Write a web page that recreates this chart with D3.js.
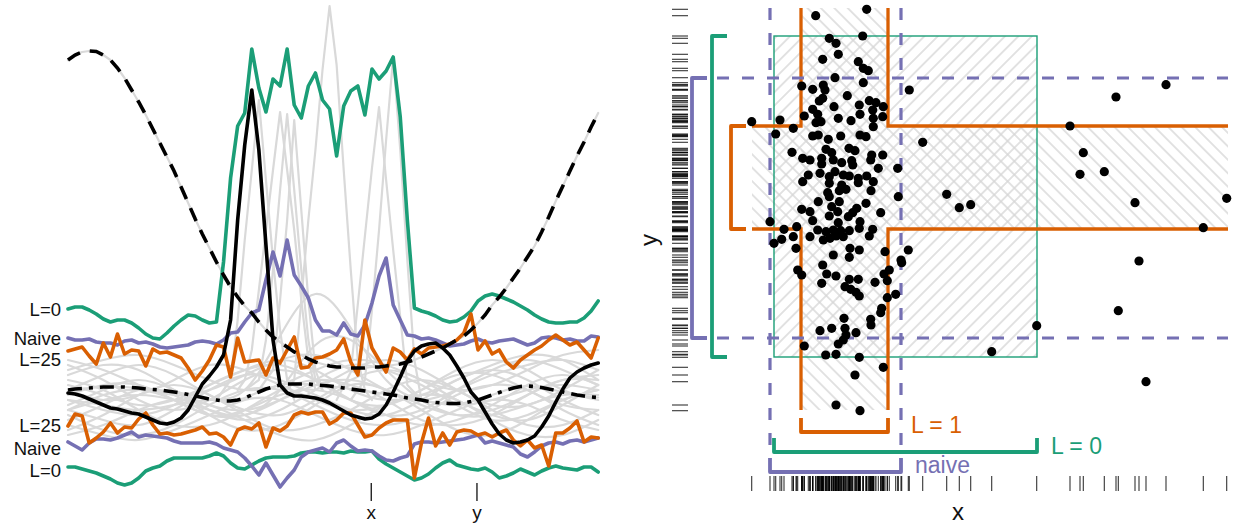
<!DOCTYPE html>
<html><head><meta charset="utf-8">
<script src="https://cdn.jsdelivr.net/npm/d3@7"></script>
<style>
body{margin:0;background:#fff}
svg{display:block}
text{font-family:"Liberation Sans",Arial,Helvetica,sans-serif}
</style>
</head><body>
<svg id="c" width="1233" height="525"></svg>
<script>
// ===================== DATA: left panel (functional data) =====================
// sample index 0..75 along the domain
const sampleIdx = d3.range(76);
const greenHi = [17.1,17.3,17.3,17.0,16.6,16.1,15.8,16.0,16.0,15.7,15.2,14.6,14.2,14.1,14.7,15.4,16.0,16.5,16.4,16.0,15.7,15.8,21.8,30.2,35.4,36.7,43.1,39.2,36.8,40.1,39.4,43.1,37.5,36.2,39.4,40.7,38.0,37.1,32.4,37.4,38.9,39.4,36.5,41.1,40.1,40.9,42.3,36.3,26.0,17.2,16.9,16.7,16.4,16.0,15.8,15.9,16.3,16.9,17.9,18.4,18.6,18.4,18.1,17.8,17.4,17.0,16.5,16.1,15.8,15.7,15.7,15.8,15.8,16.2,16.9,17.9];
const greenLo = [1.3,1.3,1.1,0.9,0.7,0.4,0.1,-0.3,-0.5,-0.3,0.2,0.9,1.2,1.4,1.9,2.2,2.2,2.2,2.2,2.2,2.4,2.7,2.4,1.7,1.2,1.1,1.5,1.9,2.2,2.3,2.3,2.3,2.4,2.7,2.8,2.8,2.7,2.8,2.8,2.7,2.9,2.8,2.8,2.9,2.1,1.6,1.2,0.8,0.4,0.0,0.2,0.6,1.2,1.7,2.0,1.5,1.3,1.1,1.0,1.2,0.8,0.2,0.4,0.7,1.1,0.8,0.5,0.9,1.2,1.4,1.2,1.1,1.0,1.3,1.3,0.8];
const naiveHi = [14.2,14.0,14.0,14.1,13.8,13.7,13.7,13.5,13.9,14.0,13.7,13.8,13.6,13.3,13.2,13.3,13.4,13.5,13.8,13.9,13.8,13.6,14.0,14.7,14.8,15.8,16.7,17.0,20.0,22.8,20.4,24.0,20.5,19.4,18.2,16.0,14.9,14.9,14.5,15.7,14.6,14.4,15.5,17.7,20.4,22.2,17.5,16.0,14.5,14.4,14.1,14.2,14.0,13.7,13.4,13.5,13.6,13.9,14.1,13.8,13.7,13.9,14.0,14.1,13.8,13.5,13.7,14.2,14.3,14.2,14.0,14.1,13.9,13.9,14.4,14.3];
const naiveLo = [3.8,3.4,3.0,3.7,4.1,4.1,4.0,4.2,4.5,4.8,4.3,4.5,4.4,4.3,4.2,3.9,3.7,3.7,3.7,3.7,3.8,3.6,3.2,3.0,2.8,2.2,1.4,0.5,1.7,0.5,-0.7,0.2,1.0,2.3,2.8,3.0,3.2,2.8,3.7,4.0,3.4,2.9,3.0,2.9,2.4,2.0,1.9,2.2,2.4,3.6,3.8,3.8,3.7,3.8,3.9,4.0,4.1,4.3,4.5,3.7,3.9,3.7,3.5,3.3,2.6,2.3,2.8,3.4,3.7,3.8,3.6,3.9,4.0,3.8,4.0,4.2];
const l25Hi = [12.9,13.1,13.3,12.4,11.6,13.7,12.3,14.6,12.6,13.0,12.9,11.4,13.1,12.7,12.8,12.5,12.2,11.2,10.0,10.9,12.0,13.5,13.3,10.3,14.2,11.8,11.9,12.0,10.5,12.2,11.7,13.0,14.3,11.2,11.3,12.2,12.3,12.6,13.0,14.1,11.8,10.5,16.0,13.2,12.0,10.8,13.2,12.8,12.0,13.1,12.6,13.2,13.3,13.4,13.6,14.0,14.7,16.6,13.0,13.9,12.6,13.0,11.8,11.2,12.0,12.5,13.0,13.4,14.0,14.5,14.0,13.5,13.8,13.0,12.2,14.2];
const l25Lo = [5.4,6.6,6.4,3.7,4.2,4.8,5.7,4.7,5.3,5.2,6.1,6.7,5.5,4.6,4.7,4.5,4.6,4.8,5.0,5.3,4.6,4.7,4.3,3.5,5.0,5.3,5.1,5.7,3.3,5.2,4.9,5.4,6.5,6.8,6.6,6.8,6.8,5.6,6.0,6.7,6.7,5.5,4.3,4.5,5.2,5.7,6.0,6.0,6.0,0.2,3.7,6.2,3.4,4.7,3.5,4.8,5.0,4.9,4.5,4.7,4.3,4.7,5.0,4.0,3.4,4.0,3.2,3.5,1.4,4.7,4.7,5.2,5.9,3.8,4.3,4.2];
const curveSolid = [8.7,8.6,8.4,8.1,7.8,7.5,7.2,7.1,6.9,6.7,6.6,6.3,6.0,5.7,5.6,5.8,6.2,7.0,8.3,9.6,10.4,11.3,12.5,16.0,26.0,33.5,39.0,33.0,23.5,14.0,9.5,8.7,8.4,8.4,8.3,8.2,8.0,7.7,7.3,6.9,6.5,6.3,6.1,6.2,6.6,7.5,8.8,10.3,11.9,12.9,13.4,13.6,13.7,13.2,12.5,11.4,10.2,8.8,8.0,6.8,5.6,4.6,4.0,3.7,3.8,4.0,4.4,5.3,6.4,7.8,9.1,10.2,10.8,11.2,11.5,11.7];
const curveDashed = [42.0,42.5,42.8,42.9,42.85,42.5,42.0,41.2,40.2,39.0,37.8,36.5,35.1,33.7,32.3,30.9,29.3,27.7,26.1,24.6,23.2,21.8,20.5,19.3,18.3,17.4,16.7,15.8,15.0,14.3,13.8,13.3,12.8,12.5,12.1,11.8,11.6,11.4,11.3,11.3,11.2,11.2,11.2,11.3,11.3,11.4,11.5,11.6,11.8,12.0,12.3,12.6,12.9,13.2,13.6,14.0,14.4,15.0,15.7,16.5,17.5,18.3,19.2,20.2,21.2,22.3,23.4,24.8,26.3,27.9,29.4,30.9,32.4,33.8,35.3,36.7];
const curveMean = [9.0,9.1,9.15,9.2,9.25,9.3,9.3,9.3,9.3,9.25,9.2,9.1,9.05,9.0,8.9,8.8,8.7,8.55,8.4,8.25,8.1,8.0,7.9,7.9,8.0,8.2,8.5,8.8,9.1,9.3,9.5,9.6,9.6,9.6,9.6,9.5,9.45,9.4,9.3,9.2,9.1,9.0,8.9,8.8,8.7,8.6,8.5,8.35,8.2,8.1,8.0,7.85,7.75,7.7,7.65,7.65,7.7,7.85,8.0,8.25,8.5,8.75,9.0,9.2,9.35,9.4,9.35,9.25,9.1,8.95,8.8,8.65,8.5,8.4,8.3,8.25];

// background sample curves, read on a coarse set of sample indices
const coarseIdx = [0,5,10,15,20,25,30,35,40,45,50,55,60,65,70,75];
const greyCurves = [
  [11.5,10,8,7,8,10,11,10,8,6.5,7,9,11,12,11,9.5],
  [9,10.5,11.5,10.5,8.5,7,6.5,8,10,11,10,8,6.5,6,7.5,9.5],
  [7,6,5.5,7,9,10.5,10,8.5,7,6.5,8,10,11,10,8,6.5],
  [5,6.5,8.5,9.5,8.5,6.5,5,5.5,7,9,10,9,7,5.5,5.5,7],
  [10.5,11.5,11,9,7,6,7,9,11,12,11,9,7.5,7.5,9,11],
  [8,7,6.5,7.5,9.5,11,11.5,10,8,7.5,9,11,12,11,9,8],
  [6,7.5,9,8.5,6.5,5,5.5,7.5,9.5,9,7,5,4.5,6,8,9],
  [12,11,9.5,8.5,9,10.5,12,12.5,11,9,8,9,10.5,11.5,12,11],
  [4.5,5.5,7,8,7.5,6,4.5,4,5.5,7.5,8.5,8,6,4.5,4.5,6],
  [9.5,8.5,7.5,8,9.5,11,12,11,9,8,8.5,10,11.5,12.5,12,10],
  [7.5,9,10,9,7.5,7,8,9.5,10,9,7.5,6.5,7,8.5,10,10.5],
  [10,9,7,5.5,5.5,7,9,10,9.5,8,6,5.5,6.5,8.5,10,10],
  [6.5,5,4.5,5.5,7.5,9,9,7.5,6,5.5,6.5,8.5,9.5,9,7,5.5],
  [8.5,9.5,9.5,8,6.5,6.5,8,10,11.5,11,9.5,7.5,6,6.5,8,9],
  [11,12,12.5,11.5,10,9,9.5,11,12,11.5,10,9,9.5,11,12.5,13],
  [5.5,4.5,4,5,6.5,8,8,6.5,5,4.5,5.5,7,8,7.5,6,5],
  [9,8,8.5,10,11.5,11,9.5,8,7,7.5,9,10.5,10.5,9,7.5,7],
  [7,8.5,9,8,6.5,7,8.5,9,8,6.5,5.5,6,7.5,9.5,10.5,9.5],
  [8,7.5,7,7.5,8,9,14.4,18.6,15.2,10,8,7.5,8,9,9.5,9],
  [7,8,8.5,8,7,6.5,9,13.5,14,11,8,6.5,6.5,7.5,8.5,8.5]
];
// spiky sample curves: [sample index, value]
const greySpikes = [
  [[31,9],[32,10],[33,18],[34,26],[35,33],[36,41],[37,47.4],[38,41.5],[39,31],[40,21],[41,12],[42,9],[43,8]],
  [[24,9],[25,10],[26,13],[27,19],[28,25],[29,31],[30,36.8],[31,31],[32,25],[33,18],[34,12],[35,9]],
  [[25,9],[27,10],[28,14],[29,21],[30,29],[31,36.6],[32,29],[33,21],[34,14],[35,10],[36,9]],
  [[21,8],[23,10],[24,16],[25,24],[26,31],[27,38],[28,30],[29,22],[30,15],[31,10],[32,8]],
  [[38,8],[40,10.8],[41,17.6],[42,24.4],[43,31.2],[44,37.3],[45,30],[46,23],[47,16.3],[48,9.5],[50,8]],
  [[40,8],[42,10],[43,17],[44,25],[45,34],[46,42.3],[47,33],[48,22],[49,12],[50,8]],
  [[27,9],[29,11],[30,18],[31,26],[32,36],[33,27],[34,18],[35,11],[36,9]]
];
const bandLabelsTop = ["L=0","Naive","L=25"];
const bandLabelsBottom = ["L=25","Naive","L=0"];
const markPos = [42.9, 57.85];
const markLabels = ["x","y"];

// ===================== DATA: right panel (scatter) =====================
const ptX = [11.57,16.67,12.93,13.6,16.27,13.83,12.27,15.83,16.33,16.83,13.5,16.33,10.17,11.27,12.33,12.5,14.73,12.27,11.93,20.93,16.93,17.6,18.33,15.93,13.4,11.27,17.27,10.43,11.77,16.0,18.27,13.83,15.1,17.33,11.6,12.1,5.17,8.0,9.33,7.57,17.33,11.27,11.83,12.83,14.07,16.0,16.6,22.27,14.9,15.5,12.6,13.17,9.2,17.17,18.27,10.27,11.0,12.17,13.33,14.17,15.17,15.27,17.07,12.17,17.83,19.77,10.83,12.0,12.93,13.5,14.33,14.93,15.83,16.67,10.27,12.93,14.17,15.83,17.33,12.77,13.93,14.6,17.1,19.83,12.93,11.83,13.93,13.17,15.67,15.27,16.6,10.17,11.0,13.77,12.93,14.83,18.07,11.27,13.83,16.0,7.0,8.4,9.67,11.77,12.6,13.33,14.07,14.93,15.93,17.27,8.17,9.33,11.0,12.33,13.0,13.6,14.33,16.93,7.4,9.6,15.0,15.93,18.5,20.83,13.33,14.93,20.1,12.27,20.17,9.77,10.17,12.67,13.6,12.17,14.93,15.83,18.93,18.4,17.5,18.73,14.5,15.07,15.6,15.93,19.57,18.73,18.17,18.07,17.07,17.1,14.4,14.5,12.0,13.17,15.6,14.6,14.33,13.83,10.43,12.57,13.6,15.93,18.33,15.5,13.6,16.0,37.0,38.33,38.0,40.43,43.5,41.6,46.6,50.33,52.67,43.9,41.83,33.67,29.17,44.6,24.67,25.93,27.07];
const ptY = [48.43,49.07,46.17,45.67,46.4,44.57,44.07,43.83,43.17,42.93,42.23,41.73,41.4,41.07,41.5,41.0,40.43,40.17,39.9,41.0,39.93,39.73,39.33,39.5,39.33,39.07,39.0,38.4,38.57,38.57,38.33,38.17,37.93,38.17,37.73,37.83,37.83,38.0,37.17,36.6,37.33,36.4,36.5,36.07,36.4,36.5,36.33,35.77,35.17,34.93,35.07,34.73,34.77,34.5,34.5,34.17,34.0,34.17,34.0,33.73,33.93,33.5,34.0,33.6,33.17,33.17,32.5,32.67,32.33,32.83,32.5,32.4,32.17,32.4,31.83,31.67,31.5,31.73,31.83,30.73,30.93,31.07,30.93,30.33,30.33,29.83,29.83,29.33,29.17,28.73,29.67,29.07,28.83,28.83,28.4,28.33,28.73,27.93,27.73,27.83,27.83,27.07,27.33,27.0,26.83,27.0,26.93,26.93,27.17,27.07,26.07,26.33,26.33,26.0,26.17,26.4,26.33,26.4,25.67,25.17,25.17,25.0,24.83,25.0,24.5,24.27,24.0,23.5,23.73,23.0,22.5,22.6,22.4,21.67,22.07,22.07,23.0,22.6,21.77,21.93,21.33,21.07,20.77,20.4,20.57,20.23,19.17,18.73,18.07,17.5,18.17,17.17,16.93,17.17,16.73,16.5,16.0,15.6,15.4,14.5,14.57,14.27,13.27,12.5,9.5,8.93,37.4,34.73,32.57,32.83,29.73,40.3,41.53,27.23,30.17,23.9,18.93,17.43,14.83,11.83,30.57,29.23,29.53];
const naiveX = [7.0, 20.1], naiveY = [16.2, 42.2];
const l0X = [7.4, 33.7],   l0Y = [14.3, 46.4];
const l1X = [10.1, 18.8],  l1Y = [27.1, 37.4];
const frameX = [5.2, 52.8], frameY = [9.0, 49.2];
const intervalLabels = ["L = 1","L = 0","naive"];

// ===================== DRAW =====================
const svg = d3.select("#c");
const GREEN="#1b9e77", ORANGE="#d95f02", PURPLE="#7570b3", GREY="#d9d9d9";

// ---- left panel
const xL = d3.scaleLinear().domain([0,75]).range([68,598.2]);
const yL = d3.scaleLinear().domain([0,48]).range([480,0]);
const lineIdx = d3.line().x((d,i)=>xL(sampleIdx[i])).y(d=>yL(d));
const lineCoarse = d3.line().x((d,i)=>xL(coarseIdx[i])).y(d=>yL(d)).curve(d3.curveNatural);
const linePairs = d3.line().x(d=>xL(d[0])).y(d=>yL(d[1]));
const gL = svg.append("g");
const styleLine = (sel,c,w)=>sel.attr("fill","none").attr("stroke",c).attr("stroke-width",w).attr("stroke-linejoin","round").attr("stroke-linecap","round");

greyCurves.forEach(c=>styleLine(gL.append("path").attr("d",lineCoarse(c)),GREY,2.2));
greySpikes.forEach(c=>styleLine(gL.append("path").attr("d",linePairs(c)),GREY,2.2));
styleLine(gL.append("path").attr("d",lineIdx(curveDashed)),GREY,2.2);
styleLine(gL.append("path").attr("d",lineIdx(curveMean)),GREY,2.2);

[[greenHi,GREEN],[greenLo,GREEN],[naiveHi,PURPLE],[naiveLo,PURPLE],[l25Hi,ORANGE],[l25Lo,ORANGE]]
 .forEach(([d,c])=>styleLine(gL.append("path").attr("d",lineIdx(d)),c,3.6));

gL.append("path").attr("d",lineIdx(curveDashed)).attr("fill","none").attr("stroke","#000").attr("stroke-width",3.6).attr("stroke-dasharray","14,10");
gL.append("path").attr("d",lineIdx(curveMean)).attr("fill","none").attr("stroke","#000").attr("stroke-width",3.6).attr("stroke-dasharray","14,7,4,7");
styleLine(gL.append("path").attr("d",lineIdx(curveSolid)),"#000",3.6);

const topStarts=[greenHi[0],naiveHi[0],l25Hi[0]], topOff=[0,0,8];
const botStarts=[l25Lo[0],naiveLo[0],greenLo[0]], botOff=[-1,6,3];
bandLabelsTop.forEach((t,i)=>gL.append("text").text(t).attr("x",61).attr("y",yL(topStarts[i])+topOff[i]).attr("text-anchor","end").attr("dominant-baseline","central").attr("font-size",18.5).attr("fill","#111"));
bandLabelsBottom.forEach((t,i)=>gL.append("text").text(t).attr("x",61).attr("y",yL(botStarts[i])+botOff[i]).attr("text-anchor","end").attr("dominant-baseline","central").attr("font-size",18.5).attr("fill","#111"));
markPos.forEach((p,i)=>{
  gL.append("line").attr("x1",xL(p)).attr("x2",xL(p)).attr("y1",483).attr("y2",501).attr("stroke","#222").attr("stroke-width",1.4);
  gL.append("text").text(markLabels[i]).attr("x",xL(p)).attr("y",519).attr("text-anchor","middle").attr("font-size",19).attr("fill","#111");
});

// ---- right panel
const xR = d3.scaleLinear().domain([0,55]).range([700,1250]);
const yR = d3.scaleLinear().domain([0,50]).range([500,0]);
const gR = svg.append("g");
const defs = svg.append("defs");
function hatch(id, ang){
  const p = defs.append("pattern").attr("id",id).attr("patternUnits","userSpaceOnUse")
    .attr("width",9.5).attr("height",9.5).attr("patternTransform",`rotate(${ang})`);
  p.append("line").attr("x1",4.75).attr("x2",4.75).attr("y1",-1).attr("y2",11).attr("stroke","#d6d6d6").attr("stroke-width",1.4);
}
hatch("hb",-45); hatch("hf",45);

// orange cross hatch
gR.append("rect").attr("x",xR(l1X[0])).attr("y",yR(frameY[1])).attr("width",xR(l1X[1])-xR(l1X[0])).attr("height",yR(frameY[0])-yR(frameY[1])).attr("fill","url(#hb)");
gR.append("rect").attr("x",xR(frameX[0])).attr("y",yR(l1Y[1])).attr("width",xR(frameX[1])-xR(frameX[0])).attr("height",yR(l1Y[0])-yR(l1Y[1])).attr("fill","url(#hb)");
// green rect
gR.append("rect").attr("x",xR(l0X[0])).attr("y",yR(l0Y[1])).attr("width",xR(l0X[1])-xR(l0X[0])).attr("height",yR(l0Y[0])-yR(l0Y[1]))
  .attr("fill","url(#hf)").attr("stroke",GREEN).attr("stroke-width",1.4);

// orange cross outline
const oP = d3.path();
oP.moveTo(xR(l1X[0]),yR(frameY[1])); oP.lineTo(xR(l1X[0]),yR(l1Y[1])); oP.lineTo(xR(frameX[0]),yR(l1Y[1]));
oP.moveTo(xR(frameX[0]),yR(l1Y[0])); oP.lineTo(xR(l1X[0]),yR(l1Y[0])); oP.lineTo(xR(l1X[0]),yR(frameY[0]));
oP.moveTo(xR(l1X[1]),yR(frameY[1])); oP.lineTo(xR(l1X[1]),yR(l1Y[1])); oP.lineTo(xR(frameX[1]),yR(l1Y[1]));
oP.moveTo(xR(frameX[1]),yR(l1Y[0])); oP.lineTo(xR(l1X[1]),yR(l1Y[0])); oP.lineTo(xR(l1X[1]),yR(frameY[0]));
gR.append("path").attr("d",oP.toString()).attr("fill","none").attr("stroke",ORANGE).attr("stroke-width",3.3);

// purple dashed
const pBot = 458, pLeft = 692;
naiveX.forEach(v=>gR.append("line").attr("x1",xR(v)).attr("x2",xR(v)).attr("y1",yR(frameY[1])).attr("y2",pBot)
  .attr("stroke",PURPLE).attr("stroke-width",3.2).attr("stroke-dasharray","12,13"));
naiveY.forEach(v=>gR.append("line").attr("x1",pLeft).attr("x2",xR(frameX[1])).attr("y1",yR(v)).attr("y2",yR(v))
  .attr("stroke",PURPLE).attr("stroke-width",3.2).attr("stroke-dasharray","12,13"));

// points
ptX.forEach((x,i)=>gR.append("circle").attr("cx",xR(x)).attr("cy",yR(ptY[i])).attr("r",4.6).attr("fill","#000"));
// rugs
ptY.forEach(y=>gR.append("line").attr("x1",672).attr("x2",688).attr("y1",yR(y)).attr("y2",yR(y)).attr("stroke","#000").attr("stroke-opacity",0.8).attr("stroke-width",1.1));
ptX.forEach(x=>gR.append("line").attr("y1",476).attr("y2",491).attr("x1",xR(x)).attr("x2",xR(x)).attr("stroke","#000").attr("stroke-opacity",0.8).attr("stroke-width",1.1));

// brackets
function vBracket(x, y0, y1, c){ gR.append("path").attr("d",`M${x+15},${y0}H${x}V${y1}H${x+15}`).attr("fill","none").attr("stroke",c).attr("stroke-width",3.8).attr("stroke-linejoin","round"); }
function hBracket(y, x0, x1, c){ gR.append("path").attr("d",`M${x0},${y-14}V${y}H${x1}V${y-14}`).attr("fill","none").attr("stroke",c).attr("stroke-width",3.8).attr("stroke-linejoin","round"); }
vBracket(692, yR(naiveY[1]), yR(naiveY[0]), PURPLE);
vBracket(712, yR(l0Y[1]), yR(l0Y[0]), GREEN);
vBracket(731, yR(l1Y[1]), yR(l1Y[0]), ORANGE);
hBracket(472, xR(naiveX[0]), xR(naiveX[1]), PURPLE);
hBracket(452, xR(l0X[0]), xR(l0X[1]), GREEN);
hBracket(432, xR(l1X[0]), xR(l1X[1]), ORANGE);

gR.append("text").text(intervalLabels[0]).attr("x",911).attr("y",433).attr("font-size",23).attr("fill",ORANGE);
gR.append("text").text(intervalLabels[1]).attr("x",1051).attr("y",454).attr("font-size",23).attr("fill",GREEN);
gR.append("text").text(intervalLabels[2]).attr("x",915).attr("y",473).attr("font-size",23).attr("fill",PURPLE);

gR.append("text").text("x").attr("x",958).attr("y",520).attr("text-anchor","middle").attr("font-size",24).attr("fill","#111");
gR.append("text").text("y").attr("transform","translate(657,240) rotate(-90)").attr("text-anchor","middle").attr("font-size",24).attr("fill","#111");
</script>
</body></html>
